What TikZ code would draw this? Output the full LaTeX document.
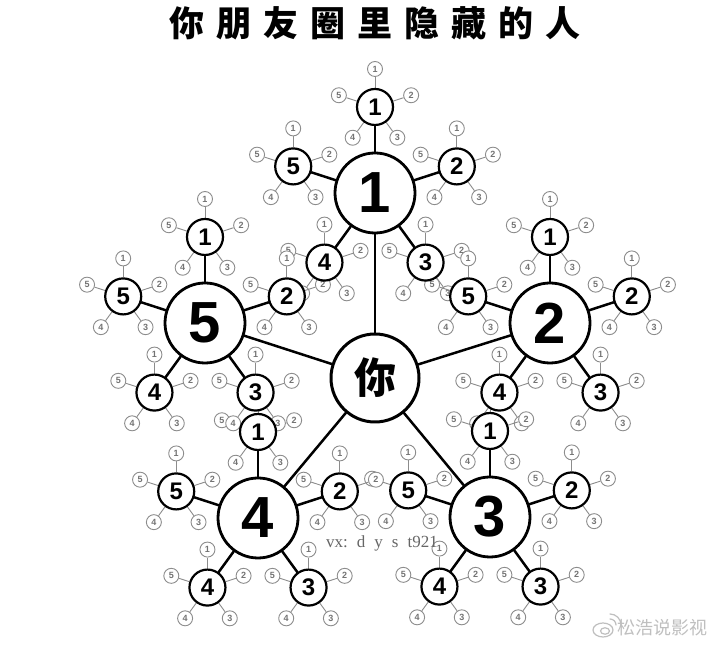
\documentclass[tikz,border=0pt]{standalone}
\usepackage{fontspec}
\setmainfont{Liberation Sans}
\newfontfamily\cjkfont{Noto Sans CJK SC}
\newfontfamily\wmfont{Liberation Serif}
\usetikzlibrary{calc}

\pgfdeclarelayer{bg}
\pgfsetlayers{bg,main}

\begin{document}
\begin{tikzpicture}[
  x=1pt, y=1pt,
  line cap=round,
  you/.style={
    draw,
    circle,
    fill=white,
    line width=3pt,
    minimum size=88pt,
    inner sep=0pt,
    font=\cjkfont\bfseries\fontsize{42}{42}\selectfont
  },
  friend/.style={
    draw,
    circle,
    fill=white,
    line width=2.8pt,
    minimum size=80pt,
    inner sep=0pt,
    font=\bfseries\fontsize{58}{58}\selectfont
  },
  friendtwo/.style={
    draw,
    circle,
    fill=white,
    line width=2.2pt,
    minimum size=36pt,
    inner sep=0pt,
    font=\bfseries\fontsize{24}{24}\selectfont
  },
  friendthree/.style={
    draw=black!45,
    circle,
    fill=white,
    line width=0.9pt,
    minimum size=15pt,
    inner sep=0pt,
    text=black!55,
    font=\bfseries\fontsize{9}{9}\selectfont
  },
  link/.style={line width=2.5pt},
  thinlink/.style={draw=black!45, line width=0.9pt}
]

% --- Canvas ---
\useasboundingbox (0, 0) rectangle (720, 650);
\begin{pgfonlayer}{bg}
  \fill[white] (0, 0) rectangle (720, 650);
\end{pgfonlayer}

% --- Distances (pt) ---
\pgfmathsetmacro{\dtwo}{86}    % friend -> friend of friend
\pgfmathsetmacro{\dthree}{38}  % friend of friend -> outer ring

% --- Title ---
\node[font=\cjkfont\bfseries\fontsize{35}{35}\selectfont] (title) at (375, 627)
  {你\hspace{12pt}朋\hspace{12pt}友\hspace{12pt}圈\hspace{12pt}里\hspace{12pt}隐\hspace{12pt}藏\hspace{12pt}的\hspace{12pt}人};

% --- Centre ---
\node[you] (you) at (375, 272) {你};

% --- Friends, their friends, and theirs (outer ring kept behind) ---
\foreach \i/\px/\py in {1/375/457, 2/550/327, 3/490/133, 4/258/132, 5/205/327} {
  \node[friend] (f\i) at (\px, \py) {\i};
  \draw[link] (you) -- (f\i);
  \foreach \j/\a in {1/90, 2/18, 3/-54, 4/-126, 5/162} {
    \node[friendtwo] (f\i-\j) at ($(f\i)+(\a:\dtwo)$) {\j};
    \draw[link] (f\i) -- (f\i-\j);
    \begin{pgfonlayer}{bg}
      \foreach \k/\b in {1/90, 2/18, 3/-54, 4/-126, 5/162} {
        \node[friendthree] (f\i-\j-\k) at ($(f\i-\j)+(\b:\dthree)$) {\k};
        \draw[thinlink] (f\i-\j) -- (f\i-\j-\k);
      }
    \end{pgfonlayer}
  }
}

% --- Watermarks ---
\node[font=\wmfont\fontsize{17}{17}\selectfont, text=black!60] (vx) at (382, 107)
  {vx:\hspace{9pt}d\hspace{9pt}y\hspace{9pt}s\hspace{9pt}t921};
\node[font=\cjkfont\fontsize{18}{18}\selectfont, text=black!25] (weibo) at (662, 22)
  {松浩说影视};
\begin{scope}[draw=black!25, line width=1.2pt]
  \draw (603, 20) ellipse (10 and 7);
  \draw (605, 19) ellipse (4.5 and 3.2);
  \draw (610, 31) arc (90:0:6);
  \draw (610, 36) arc (90:0:11);
\end{scope}

\end{tikzpicture}
\end{document}
